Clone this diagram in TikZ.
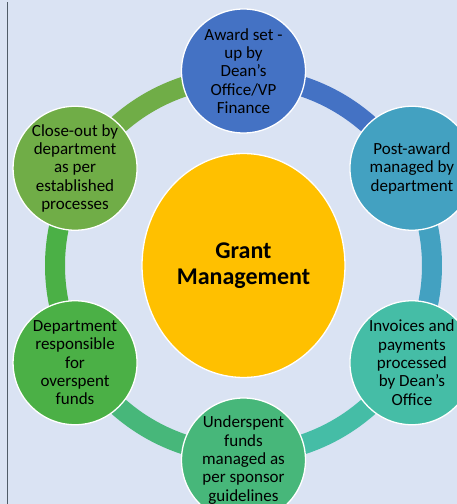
\documentclass[tikz,border=0pt]{standalone}
\usepackage{fontspec}
\setmainfont{Carlito}
\usetikzlibrary{shapes.geometric}
\definecolor{bg}{HTML}{DAE3F3}
\definecolor{cA}{HTML}{4472C4}
\definecolor{cB}{HTML}{43A1C1}
\definecolor{cC}{HTML}{45BDA6}
\definecolor{cD}{HTML}{47B77A}
\definecolor{cE}{HTML}{4BB046}
\definecolor{cF}{HTML}{70AD47}
\definecolor{cG}{HTML}{FFC000}
\definecolor{edge}{HTML}{505C68}
\tikzset{
  stage/.style={circle, draw=white, line width=1.3pt, minimum size=124pt, inner sep=0pt},
  stagetext/.style={align=center, text=black, inner sep=0pt,
    font=\fontsize{17}{18.3}\selectfont},
  hub/.style={ellipse, draw=white, line width=1.3pt, fill=cG, minimum width=203pt,
    minimum height=224pt, inner sep=0pt, align=center, text=black,
    font=\fontsize{24}{26}\selectfont\bfseries},
  ring/.style={line width=20pt}
}
\begin{document}
\begin{tikzpicture}[x=1pt,y=1pt]
\fill[bg] (-243.5,-238.5) rectangle (213.5,265.5);
\useasboundingbox (-243.5,-238.5) rectangle (213.5,265.5);
\clip (-243.5,-238.5) rectangle (213.5,265.5);
\draw[edge, line width=1.3pt] (-236,-238.5) -- (-236,263);
\coordinate (o) at (0,0);
% ring segments
\draw[ring, cA] ([shift={(90:188.5)}]o) arc[start angle=90, end angle=30, radius=188.5];
\draw[ring, cB] ([shift={(30:188.5)}]o) arc[start angle=30, end angle=-30, radius=188.5];
\draw[ring, cC] ([shift={(-30:188.5)}]o) arc[start angle=-30, end angle=-90, radius=188.5];
\draw[ring, cD] ([shift={(-90:188.5)}]o) arc[start angle=-90, end angle=-150, radius=188.5];
\draw[ring, cE] ([shift={(-150:188.5)}]o) arc[start angle=-150, end angle=-210, radius=188.5];
\draw[ring, cF] ([shift={(150:188.5)}]o) arc[start angle=150, end angle=90, radius=188.5];
% centre
\node[hub] (hub) at (o) {Grant\\Management};
% stages
\node[stage, fill=cA, label={[stagetext]center:Award set -\\up by\\Dean’s\\Office/VP\\Finance}] (s1) at (90:194.5) {};
\node[stage, fill=cB, label={[stagetext]center:Post-award\\managed by\\department}] (s2) at (30:194.5) {};
\node[stage, fill=cC, label={[stagetext]center:Invoices and\\payments\\processed\\by Dean’s\\Office}] (s3) at (-30:194.5) {};
\node[stage, fill=cD, label={[stagetext]center:Underspent\\funds\\managed as\\per sponsor\\guidelines}] (s4) at (-90:194.5) {};
\node[stage, fill=cE, label={[stagetext]center:Department\\responsible\\for\\overspent\\funds}] (s5) at (-150:194.5) {};
\node[stage, fill=cF, label={[stagetext]center:Close-out by\\department\\as per\\established\\processes}] (s6) at (150:194.5) {};
\end{tikzpicture}
\end{document}
